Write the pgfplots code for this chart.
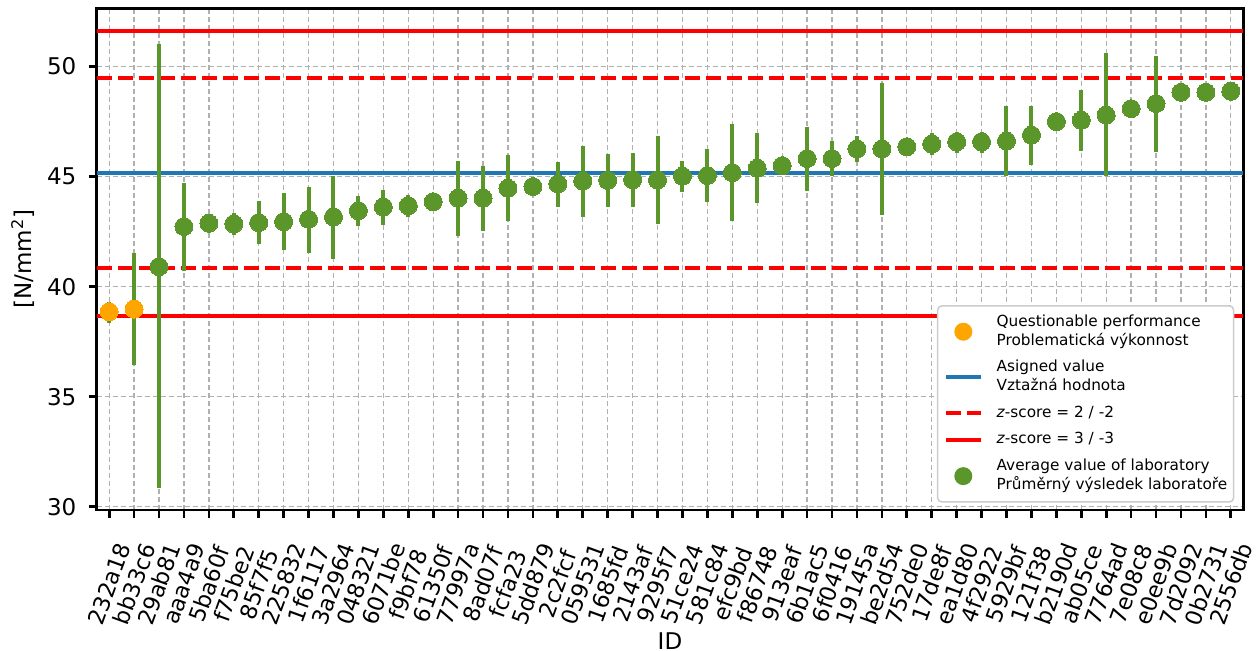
\documentclass[border=0pt]{standalone}
\usepackage{fontspec}
\setmainfont{DejaVu Sans}
\usepackage{pgfplots}
\pgfplotsset{compat=1.18}
\usepackage{pgfplotstable}
\definecolor{lgreen}{RGB}{91,150,42}
\definecolor{qorange}{RGB}{255,165,0}
\definecolor{mblue}{RGB}{31,119,180}
\definecolor{gridgray}{RGB}{176,176,176}
\definecolor{leggray}{RGB}{204,204,204}

\pgfplotstableread{
x y ep em
0 38.86 0.46 0.50
1 38.98 2.54 2.54
2 40.91 10.11 10.08
3 42.73 1.98 2.00
4 42.88 0 0
5 42.85 0.48 0.50
6 42.91 1.00 0.99
7 42.95 1.29 1.28
8 43.06 1.47 1.51
9 43.17 1.88 1.93
10 43.45 0.69 0.69
11 43.62 0.79 0.80
12 43.68 0.49 0.50
13 43.86 0 0
14 44.02 1.69 1.70
15 44.02 1.48 1.49
16 44.47 1.51 1.47
17 44.55 0 0
18 44.67 0.98 1.03
19 44.80 1.59 1.62
20 44.83 1.20 1.22
21 44.86 1.20 1.22
22 44.85 2.00 2.00
23 45.02 0.69 0.72
24 45.05 1.21 1.19
25 45.18 2.20 2.18
26 45.38 1.60 1.59
27 45.50 0 0
28 45.82 1.44 1.46
29 45.82 0.80 0.79
30 46.26 0.59 0.61
31 46.26 2.98 3.00
32 46.36 0 0
33 46.48 0.49 0.50
34 46.58 0.47 0.49
35 46.58 0.47 0.49
36 46.62 1.59 1.57
37 46.89 1.32 1.36
38 47.50 0 0
39 47.56 1.38 1.39
40 47.80 2.81 2.75
41 48.09 0 0
42 48.32 2.18 2.18
43 48.83 0 0
44 48.83 0 0
45 48.88 0 0
}\labdata

\begin{document}
\begin{tikzpicture}
\path[use as bounding box] (-48.35pt,-70.5pt) rectangle (581.65pt,255pt);
\begin{axis}[
  at={(0pt,0pt)}, anchor=south west,
  scale only axis, width=573.3pt, height=250.85pt,
  xmin=-0.5, xmax=45.5, ymin=29.85, ymax=52.65,
  xtick={0,...,45},
  xticklabels={232a18,bb33c6,29ab81,aaa4a9,5ba60f,f75be2,85f7f5,225832,1f6117,3a2964,048321,6071be,f9bf78,61350f,77997a,8ad07f,fcfa23,5dd879,2c2fcf,059531,1685fd,2143af,9295f7,51ce24,581c84,efc9bd,f86748,913eaf,6b1ac5,6f0416,19145a,be2d54,752de0,17de8f,ea1d80,4f2922,5929bf,121f38,b2190d,ab05ce,7764ad,7e08c8,e0ee9b,7d2092,0b2731,2556db},
  ytick={30,35,40,45,50},
  /pgf/number format/assume math mode=true,
  grid=major,
  grid style={gridgray, line width=0.65pt, dash pattern=on 2.5pt off 1.5pt},
  axis line style={line width=1.35pt},
  tick align=outside, tick pos=left,
  major tick length=4pt,
  tick style={black, line width=1.35pt},
  tick label style={font=\fontsize{11.5}{13.8}\selectfont},
  xticklabel style={font=\fontsize{11.2}{13.4}\selectfont},
  label style={font=\fontsize{11.5}{13.8}\selectfont},
  yticklabel style={anchor=east, inner sep=0pt, xshift=-6pt},
  xticklabel style={anchor=center, inner sep=0pt, yshift=-33pt, rotate=70},
  xlabel={ID},
  ylabel={[N/mm\textsuperscript{2}]},
  xlabel style={at={(axis description cs:0.5,-0.279)}, anchor=base, inner sep=0pt},
  ylabel style={at={(axis description cs:-0.0643,0.5)}, anchor=center},
  legend style={at={(rel axis cs:1,0)}, anchor=south east, xshift=-4.5pt, yshift=3.65pt,
    draw=leggray, line width=0.75pt, rounded corners=2pt, fill=white,
    inner xsep=3.15pt, inner ysep=3.4pt, row sep=3.8pt, column sep=7pt,
    font=\fontsize{7.65}{9.5}\selectfont,
    nodes={inner sep=0pt, text depth={}, align=left}},
  legend cell align=left,
]
% reference lines
\addplot[forget plot, red, line width=2pt] coordinates {(-0.5,51.615) (45.5,51.615)};
\addplot[forget plot, red, line width=2pt] coordinates {(-0.5,38.685) (45.5,38.685)};
\addplot[forget plot, red, line width=2pt, dash pattern=on 7.5pt off 3pt] coordinates {(-0.5,49.46) (45.5,49.46)};
\addplot[forget plot, red, line width=2pt, dash pattern=on 7.5pt off 3pt] coordinates {(-0.5,40.84) (45.5,40.84)};
\addplot[forget plot, mblue, line width=2pt] coordinates {(-0.5,45.15) (45.5,45.15)};
% error bars
\addplot[forget plot, lgreen, only marks, mark=none,
  error bars/.cd, y dir=both, y explicit, error mark=none,
  error bar style={line width=2pt, lgreen}]
  table[x=x, y=y, y error plus=ep, y error minus=em]{\labdata};
% lab means
\addplot[forget plot, only marks, mark=*, mark size=4.5pt, lgreen, mark options={line width=0pt}]
  table[x=x, y=y, skip coords between index={0}{2}]{\labdata};
% questionable
\addplot[forget plot, only marks, mark=*, mark size=4.5pt, qorange, mark options={line width=0pt}]
  table[x=x, y=y, skip coords between index={2}{46}]{\labdata};
% legend
\addlegendimage{legend image code/.code={\fill[qorange, draw=none] (8.675pt,0pt) circle (4.5pt); \path[draw=none, fill=none] (0pt,-0.1pt) rectangle (17.35pt,0.1pt);}}
\addlegendentry{\strut Questionable performance\\\strut Problematická výkonnost}
\addlegendimage{legend image code/.code={\draw[mblue, line width=2pt] (0pt,0pt) -- (17.35pt,0pt);}}
\addlegendentry{\strut Asigned value\\\strut Vztažná hodnota}
\addlegendimage{legend image code/.code={\draw[red, line width=2pt, dash pattern=on 7.5pt off 3pt] (0pt,0pt) -- (17.35pt,0pt);}}
\addlegendentry{\strut\textit{z}-score = 2 / -2}
\addlegendimage{legend image code/.code={\draw[red, line width=2pt] (0pt,0pt) -- (17.35pt,0pt);}}
\addlegendentry{\strut\textit{z}-score = 3 / -3}
\addlegendimage{legend image code/.code={\fill[lgreen, draw=none] (8.675pt,0pt) circle (4.5pt); \path[draw=none, fill=none] (0pt,-0.1pt) rectangle (17.35pt,0.1pt);}}
\addlegendentry{\strut Average value of laboratory\\\strut Průměrný výsledek laboratoře}
\end{axis}
\end{tikzpicture}
\end{document}
